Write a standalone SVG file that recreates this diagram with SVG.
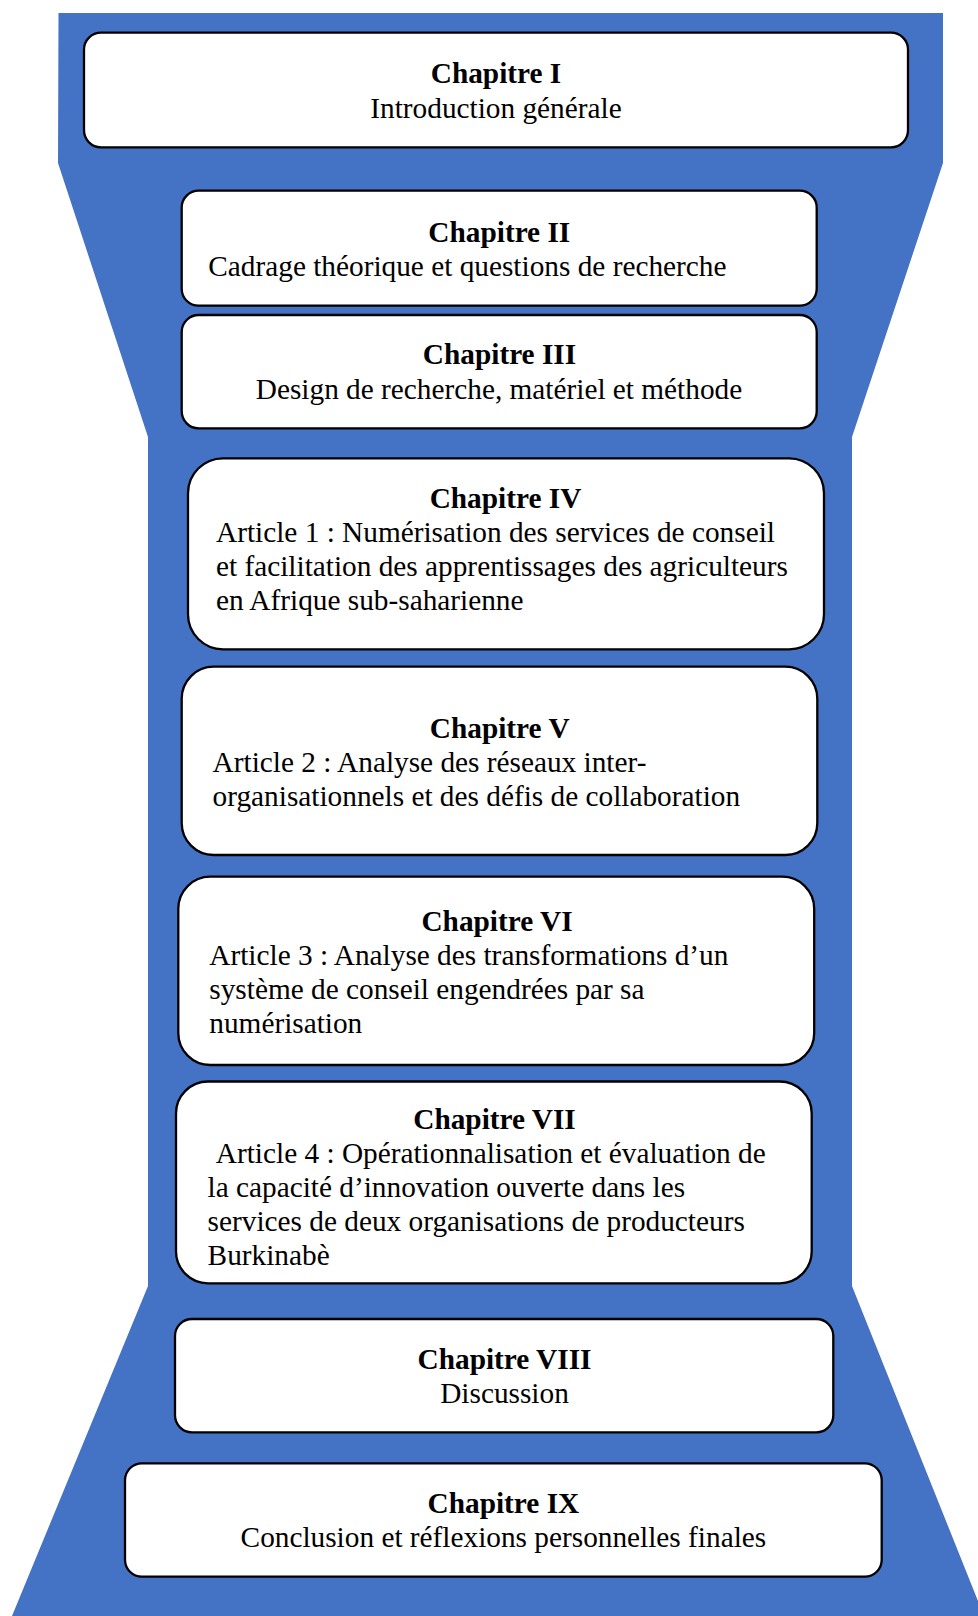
<svg xmlns="http://www.w3.org/2000/svg" width="978" height="1616" viewBox="0 0 978 1616">
<style>
.box{fill:#fff;stroke:#000;stroke-width:2.3}
text{font-family:"Liberation Serif","Times New Roman",serif;font-size:29.3px;fill:#000}
.t{font-weight:bold;text-anchor:middle}
.c{text-anchor:middle}
</style>
<polygon id="background" points="58.5,13 943,13 943,163 852,437 852,1286 984,1616 12,1616 148,1286 148,437 58,163" fill="#4472C4"/>
<g id="connectors"/>
<g id="ch1">
<rect class="box" x="84" y="32.7" width="824" height="114.6" rx="17"/>
<text class="t" x="496" y="83">Chapitre I</text>
<text class="c" x="496" y="117.5">Introduction générale</text>
</g>
<g id="ch2">
<rect class="box" x="181.7" y="190.7" width="635" height="115" rx="17"/>
<text class="t" x="499.3" y="241.5">Chapitre II</text>
<text x="208.3" y="275.5">Cadrage théorique et questions de recherche</text>
</g>
<g id="ch3">
<rect class="box" x="181.7" y="315" width="635" height="113.3" rx="17"/>
<text class="t" x="499.5" y="364.3">Chapitre III</text>
<text class="c" x="499" y="398.5">Design de recherche, matériel et méthode</text>
</g>
<g id="ch4">
<rect class="box" x="188" y="458.3" width="636" height="191" rx="35"/>
<text class="t" x="505.5" y="508">Chapitre IV</text>
<text x="216" y="542">Article 1 : Numérisation des services de conseil</text>
<text x="216" y="576">et facilitation des apprentissages des agriculteurs</text>
<text x="216" y="610">en Afrique sub-saharienne</text>
</g>
<g id="ch5">
<rect class="box" x="181.7" y="666.7" width="635.6" height="188.3" rx="32"/>
<text class="t" x="499.7" y="738">Chapitre V</text>
<text x="212.6" y="772">Article 2 : Analyse des réseaux inter-</text>
<text x="212.6" y="806">organisationnels et des défis de collaboration</text>
</g>
<g id="ch6">
<rect class="box" x="178.3" y="876.7" width="635.9" height="188.3" rx="32"/>
<text class="t" x="497" y="930.5">Chapitre VI</text>
<text x="209.3" y="964.5">Article 3 : Analyse des transformations d’un</text>
<text x="209.3" y="998.5">système de conseil engendrées par sa</text>
<text x="209.3" y="1032.5">numérisation</text>
</g>
<g id="ch7">
<rect class="box" x="176" y="1081.5" width="635.7" height="201.8" rx="32"/>
<text class="t" x="494.5" y="1129">Chapitre VII</text>
<text x="215.8" y="1163">Article 4 : Opérationnalisation et évaluation de</text>
<text x="207.6" y="1197">la capacité d’innovation ouverte dans les</text>
<text x="207.6" y="1231">services de deux organisations de producteurs</text>
<text x="207.6" y="1265">Burkinabè</text>
</g>
<g id="ch8">
<rect class="box" x="175" y="1319" width="658.3" height="113.3" rx="17"/>
<text class="t" x="504.5" y="1369">Chapitre VIII</text>
<text class="c" x="504.5" y="1403">Discussion</text>
</g>
<g id="ch9">
<rect class="box" x="125" y="1463.3" width="756.7" height="113.4" rx="17"/>
<text class="t" x="503.4" y="1513">Chapitre IX</text>
<text class="c" x="503.4" y="1547">Conclusion et réflexions personnelles finales</text>
</g>
</svg>
